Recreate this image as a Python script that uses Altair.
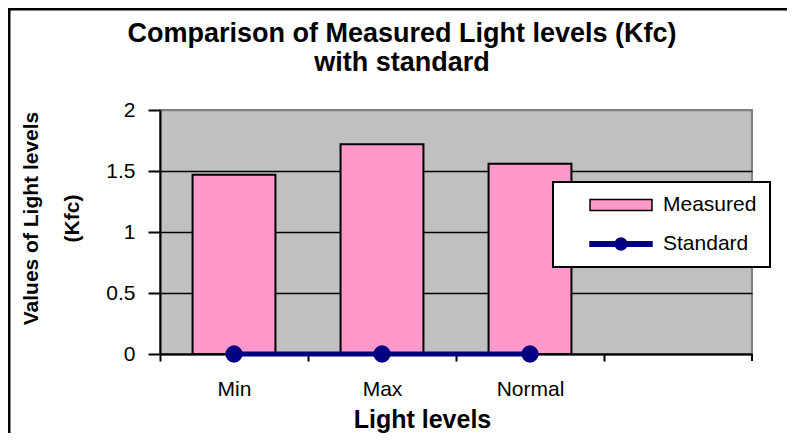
import altair as alt
import pandas as pd

# ---- data ----
categories = ["Min", "Max", "Normal", ""]
measured_cats = ["Min", "Max", "Normal"]
measured_values = [1.47, 1.72, 1.56]
standard_values = [0, 0, 0]
series_names = ["Measured", "Standard"]
y_ticks = [0, 0.5, 1, 1.5, 2]
title_lines = ["Comparison of Measured Light levels (Kfc)", "with standard"]
y_title_lines = ["Values of Light levels", "(Kfc)"]
x_title = "Light levels"

PINK = "#FF99CC"
NAVY = "#000080"
PLOT_BG = "#C0C0C0"
FONT = "Liberation Sans"

bars_df = pd.DataFrame({"category": measured_cats, "value": measured_values})
std_df = pd.DataFrame({"category": measured_cats, "value": standard_values})
legend_df = pd.DataFrame({"series": series_names})
one_df = pd.DataFrame({"k": [0]})

W, H = 592, 244

x_scale = alt.Scale(domain=categories, paddingInner=0.44, paddingOuter=0.22)
y_scale = alt.Scale(domain=[0, 2], nice=False)

x_axis = alt.Axis(
    title=x_title, labelAngle=0, tickOffset=-74, labelOffset=74,
    tickSize=7, labelPadding=17, labelFontSize=21, labelFont=FONT,
    titleFontSize=25, titleFontWeight="bold", titleFont=FONT,
    titleX=262, titleY=73, titleBaseline="alphabetic", titleAlign="center",
)
y_axis = alt.Axis(
    values=y_ticks, format="~g", title=y_title_lines,
    titleFontSize=21, titleFontWeight="bold", titleFont=FONT,
    titleLineHeight=41, titleX=-123, titleY=108, titleAngle=270,
    titleBaseline="alphabetic", titleAlign="center",
    tickSize=12, labelPadding=13, labelFontSize=21, labelFont=FONT,
    grid=True, gridWidth=1.5,
    gridColor={"condition": {"test": "datum.value === 2", "value": "#808080"}, "value": "black"},
)

x_enc = alt.X("category:N", scale=x_scale, sort=categories, axis=x_axis)
x_plain = alt.X("category:N", scale=x_scale, sort=categories)
y_plain = alt.Y("value:Q", scale=y_scale)

bars = alt.Chart(bars_df).mark_bar(fill=PINK, stroke="black", strokeWidth=2).encode(
    x=x_enc, y=alt.Y("value:Q", scale=y_scale, axis=y_axis)
)
line = alt.Chart(std_df).mark_line(color=NAVY, strokeWidth=5).encode(x=x_plain, y=y_plain)
points = alt.Chart(std_df).mark_point(filled=True, color=NAVY, size=300, opacity=1).encode(
    x=x_plain, y=y_plain
)

rect_path = "M-1,-0.18H1V0.18H-1Z"
linedot_path = ("M-1,-0.075H1V0.075H-1Z "
                "M-0.19,0A0.19,0.19,0,1,1,0.19,0A0.19,0.19,0,1,1,-0.19,0Z")

leg = alt.Legend(
    title=None,
    orient="none", legendX=393, legendY=72,
    fillColor="white", strokeColor="black", padding=13,
    symbolSize=3844, symbolOffset=23, labelOffset=10, clipHeight=20, rowPadding=18,
    labelFontSize=21, labelFont=FONT, labelColor="black", labelLimit=400,
    symbolStrokeWidth=1.5, symbolOpacity=1,
)
legend_layer = alt.Chart(legend_df).transform_filter("false").mark_point(
    filled=True, opacity=1, size=3844, strokeWidth=1.5
).encode(
    fill=alt.Fill("series:N", scale=alt.Scale(domain=series_names, range=[PINK, NAVY]), legend=leg),
    stroke=alt.Stroke("series:N", scale=alt.Scale(domain=series_names, range=["black", NAVY]), legend=leg),
    shape=alt.Shape("series:N", scale=alt.Scale(domain=series_names, range=[rect_path, linedot_path]), legend=leg),
)

end_tick = alt.Chart(one_df).mark_rule(color="black", strokeWidth=2).encode(
    x=alt.value(W), y=alt.value(H), y2=alt.value(H + 7)
)
frame = alt.Chart(one_df).mark_rect(fill="transparent", stroke="black", strokeWidth=3).encode(
    x=alt.value(-151), x2=alt.value(W + 200), y=alt.value(-101), y2=alt.value(H + 200)
)

chart = alt.layer(frame, bars, line, points, end_tick, legend_layer).properties(
    width=W, height=H,
    autosize=alt.AutoSizeParams(type="none"),
    padding={"left": 152, "top": 102, "right": 35, "bottom": 79},
    background="white",
    view=alt.ViewBackground(fill=PLOT_BG, stroke="#808080", strokeWidth=2),
    title=alt.TitleParams(
        text=title_lines, font=FONT, fontSize=27, fontWeight="bold", color="black",
        lineHeight=29, anchor="middle", dx=-54, dy=73,
    ),
).configure_view(
    fill=PLOT_BG, stroke="#808080", strokeWidth=2
).configure_axis(
    domainColor="black", domainWidth=2, tickColor="black", tickWidth=2,
    labelColor="black", titleColor="black",
).configure_legend(strokeWidth=2)

chart.save("out.html", embed_options={"renderer": "svg", "actions": False})
